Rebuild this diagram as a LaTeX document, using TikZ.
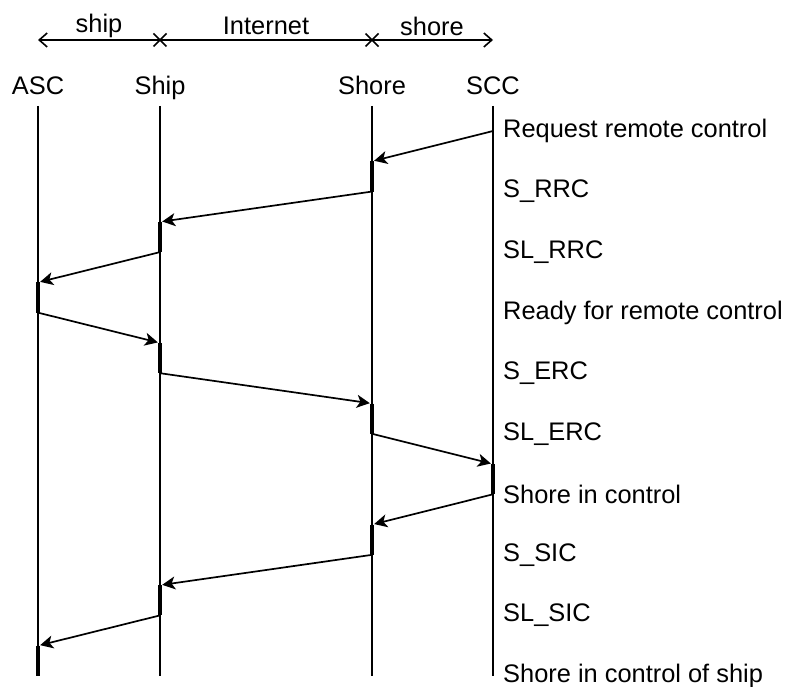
\documentclass[tikz,border=0pt]{standalone}
\usepackage{fontspec}
\setmainfont{Liberation Sans}
\usetikzlibrary{arrows.meta}
\begin{document}
\begin{tikzpicture}[x=1pt,y=-1pt,
  lbl/.style={font=\fontsize{25.4}{30}\selectfont, inner sep=0pt},
  lifeline/.style={line width=1.4pt},
  msg/.style={line width=1.7pt, -{Stealth[length=13pt,width=13pt,inset=3.5pt]}, shorten >=2.2pt},
  actbar/.style={line width=4.6pt},
  scope/.style={line width=1.6pt},
  xmark/.style={line width=1.5pt}]
\useasboundingbox (0,0) rectangle (785,687);

% lane positions
\def\xASC{38}\def\xShip{160}\def\xShore{372}\def\xSCC{493}

% domain ruler
\coordinate (rL) at (\xASC,40);
\coordinate (rA) at (\xShip,40);
\coordinate (rB) at (\xShore,40);
\coordinate (rR) at (\xSCC,40);
\draw[scope,{Straight Barb[length=8pt,width=14pt]}-{Straight Barb[length=8pt,width=14pt]}] (rL) -- (rR);
\foreach \c in {rA,rB}
  \draw[xmark] ([shift={(-6.5,-6.5)}]\c) -- ([shift={(6.5,6.5)}]\c)
               ([shift={(-6.5,6.5)}]\c) -- ([shift={(6.5,-6.5)}]\c);
\node[lbl] (dship) at (99,26) {ship};
\node[lbl] (dnet) at (266,26) {Internet};
\node[lbl] (dshore) at (432,26) {shore};

% lane heads
\node[lbl,anchor=base] (hASC) at (\xASC,95) {ASC};
\node[lbl,anchor=base] (hShip) at (\xShip,95) {Ship};
\node[lbl,anchor=base] (hShore) at (\xShore,95) {Shore};
\node[lbl,anchor=base] (hSCC) at (\xSCC,95) {SCC};

% lifelines
\foreach \n/\x in {ASC/\xASC,Ship/\xShip,Shore/\xShore,SCC/\xSCC}{
  \coordinate (t\n) at (\x,106);
  \coordinate (b\n) at (\x,676);
  \draw[lifeline] (t\n) -- (b\n);
}

% message steps: start lane, end lane
\foreach [count=\k from 0] \f/\t in {\xSCC/\xShore,\xShore/\xShip,\xShip/\xASC,\xASC/\xShip,
    \xShip/\xShore,\xShore/\xSCC,\xSCC/\xShore,\xShore/\xShip,\xShip/\xASC}{
  \pgfmathsetmacro{\ya}{131+60.55*\k}
  \pgfmathsetmacro{\yb}{\ya+30.3}
  \pgfmathsetmacro{\yc}{\ya+60.55}
  \coordinate (s\k) at (\f,\ya);
  \coordinate (e\k) at (\t,\yb);
  \coordinate (f\k) at (\t,\yc);
  \draw[actbar] (e\k) -- (f\k);
  \draw[msg] (s\k) -- (e\k);
}

% step labels
\foreach [count=\k from 0] \txt in {Request remote control,S\_RRC,SL\_RRC,Ready for remote control,
    S\_ERC,SL\_ERC,Shore in control,S\_SIC,SL\_SIC,Shore in control of ship}{
  \pgfmathsetmacro{\yl}{131+60.55*\k}
  \node[lbl,anchor=west] (L\k) at (503,\yl) {\txt};
}
\end{tikzpicture}
\end{document}
